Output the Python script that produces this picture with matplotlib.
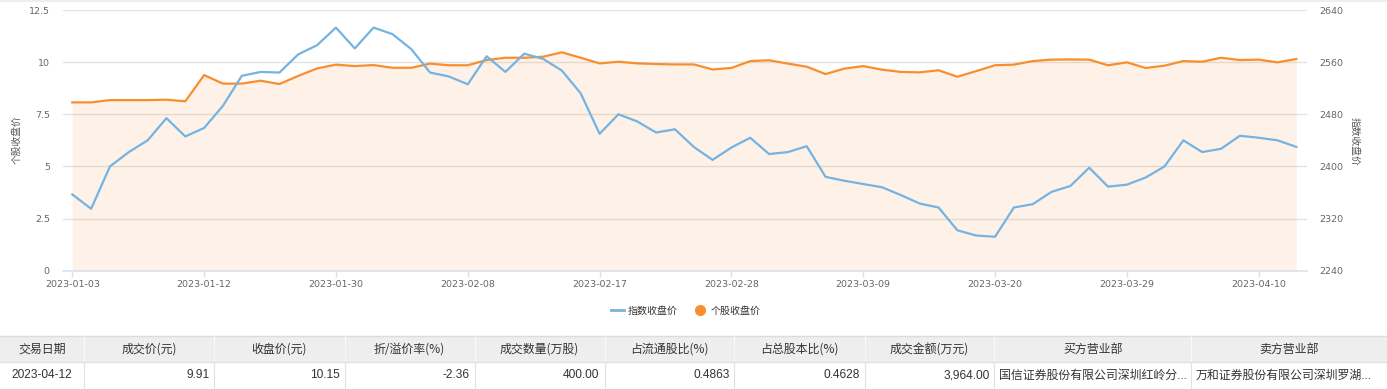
import matplotlib
matplotlib.use('Agg')
import matplotlib.pyplot as plt
from matplotlib.lines import Line2D
from matplotlib.patches import Rectangle

dates = ['2023-01-03', '2023-01-04', '2023-01-05', '2023-01-06', '2023-01-09', '2023-01-10',
         '2023-01-11', '2023-01-12', '2023-01-13', '2023-01-16', '2023-01-17', '2023-01-18',
         '2023-01-19', '2023-01-20', '2023-01-30', '2023-01-31', '2023-02-01', '2023-02-02',
         '2023-02-03', '2023-02-06', '2023-02-07', '2023-02-08', '2023-02-09', '2023-02-10',
         '2023-02-13', '2023-02-14', '2023-02-15', '2023-02-16', '2023-02-17', '2023-02-20',
         '2023-02-21', '2023-02-22', '2023-02-23', '2023-02-24', '2023-02-27', '2023-02-28',
         '2023-03-01', '2023-03-02', '2023-03-03', '2023-03-06', '2023-03-07', '2023-03-08',
         '2023-03-09', '2023-03-10', '2023-03-13', '2023-03-14', '2023-03-15', '2023-03-16',
         '2023-03-17', '2023-03-20', '2023-03-21', '2023-03-22', '2023-03-23', '2023-03-24',
         '2023-03-27', '2023-03-28', '2023-03-29', '2023-03-30', '2023-03-31', '2023-04-03',
         '2023-04-04', '2023-04-06', '2023-04-07', '2023-04-10', '2023-04-11', '2023-04-12']

# 个股收盘价 (left axis)
stock_close = [8.07, 8.07, 8.18, 8.18, 8.18, 8.20, 8.12, 9.38, 8.97, 8.97, 9.11,
               8.95, 9.34, 9.70, 9.88, 9.81, 9.86, 9.73, 9.73, 9.93, 9.85, 9.85,
               10.10, 10.21, 10.21, 10.26, 10.47, 10.21, 9.94, 10.02, 9.94, 9.91, 9.89,
               9.89, 9.65, 9.72, 10.05, 10.09, 9.93, 9.78, 9.43, 9.69, 9.81, 9.64,
               9.53, 9.51, 9.61, 9.30, 9.57, 9.85, 9.88, 10.05, 10.12, 10.13, 10.12,
               9.85, 9.99, 9.72, 9.83, 10.05, 10.02, 10.21, 10.10, 10.12, 9.99, 10.15]

# 指数收盘价 (right axis)
index_close = [2357, 2335, 2400, 2422, 2440, 2474, 2446, 2459, 2493, 2539, 2545,
               2544, 2572, 2586, 2613, 2581, 2613, 2603, 2580, 2544, 2538, 2526,
               2569, 2545, 2573, 2565, 2547, 2512, 2450, 2480, 2469, 2452, 2457,
               2430, 2410, 2429, 2444, 2419, 2422, 2431, 2384, 2378, 2373, 2368,
               2356, 2343, 2337, 2302, 2294, 2292, 2337, 2342, 2361, 2370, 2398,
               2369, 2372, 2383, 2400, 2440, 2422, 2427, 2447, 2444, 2440, 2430]

left_ticks = [0, 2.5, 5, 7.5, 10, 12.5]
left_labels = ['0', '2.5', '5', '7.5', '10', '12.5']
right_ticks = [2240, 2320, 2400, 2480, 2560, 2640]

table_header = ['交易日期', '成交价(元)', '收盘价(元)', '折/溢价率(%)', '成交数量(万股)',
                '占流通股比(%)', '占总股本比(%)', '成交金额(万元)', '买方营业部', '卖方营业部']
table_row = ['2023-04-12', '9.91', '10.15', '-2.36', '400.00', '0.4863', '0.4628',
             '3,964.00', '国信证券股份有限公司深圳红岭分...', '万和证券股份有限公司深圳罗湖...']

W, H = 1387, 389
BLUE = '#74b3e2'
ORANGE = '#f98e2e'
CJK = ['Noto Sans CJK SC', 'DejaVu Sans']
NUM = ['Liberation Sans', 'Noto Sans CJK SC']

fig = plt.figure(figsize=(W / 100, H / 100), dpi=100)

# overlay in pixel coords for table and borders
tab = fig.add_axes([0, 0, 1, 1])
tab.set_xlim(0, W)
tab.set_ylim(H, 0)
tab.axis('off')

tab.add_patch(Rectangle((0, 0), W, 1.6, fc='#eeeeee', ec='none'))

col_edges = [0, 83.5, 214.3, 344.6, 474.6, 604.5, 734.4, 864.7, 994.4, 1190.9, W]
head_top, head_bot, row_bot = 336, 362, 389
tab.add_patch(Rectangle((0, head_top), W, head_bot - head_top, fc='#eeeeee', ec='none'))
tab.plot([0, W], [head_top, head_top], color='#dcdcdc', lw=1)
tab.plot([0, W], [head_bot, head_bot], color='#e2e2e2', lw=1)
for e in col_edges[1:-1]:
    tab.plot([e, e], [head_top, head_bot], color='#f8f8f8', lw=0.8)
    tab.plot([e, e], [head_bot, row_bot], color='#e2e2e2', lw=0.8)

for i, txt in enumerate(table_header):
    cx = (col_edges[i] + col_edges[i + 1]) / 2
    tab.text(cx, 349.5, txt, ha='center', va='center', family=CJK, size=8.6, color='#333333')

for i, txt in enumerate(table_row):
    if i == 0:
        tx, ha = (col_edges[0] + col_edges[1]) / 2, 'center'
    elif i < 8:
        tx, ha = col_edges[i + 1] - 5, 'right'
    else:
        tx, ha = col_edges[i] + 5, 'left'
    tab.text(tx, 375.5, txt, ha=ha, va='center', family=NUM, size=8.6, color='#333333')

# main chart
ax = fig.add_axes([63 / W, 1 - 270.7 / H, (1306.7 - 63) / W, (270.7 - 10) / H])
x = list(range(len(dates)))
ax.fill_between(x, 0, stock_close, color=ORANGE, alpha=0.11, lw=0, zorder=1)
ax.plot(x, stock_close, color=ORANGE, lw=1.6, zorder=3)
ax.set_xlim(-0.494, 65.55)
ax.set_ylim(0, 12.5)
ax.set_yticks(left_ticks)
ax.set_yticklabels(left_labels)
ax.grid(axis='y', color='#e3e3e3', lw=1)
ax.set_axisbelow(True)
for s in ['left', 'right', 'top']:
    ax.spines[s].set_visible(False)
ax.spines['bottom'].set_color('#dbe1ec')
ax.spines['bottom'].set_linewidth(1.2)
ax.set_xticks(x[::7])
ax.set_xticklabels(dates[::7])
ax.tick_params(axis='x', length=4, width=1, color='#dbe1ec', pad=2.5, labelsize=6.8, labelcolor='#666666')
ax.tick_params(axis='y', length=0, pad=9.5, labelsize=6.8, labelcolor='#666666')

ax2 = ax.twinx()
ax2.plot(x, index_close, color=BLUE, lw=1.6, zorder=4)
ax2.set_ylim(2240, 2640)
ax2.set_yticks(right_ticks)
for s in ax2.spines.values():
    s.set_visible(False)
ax2.tick_params(axis='y', length=0, pad=9, labelsize=6.8, labelcolor='#666666')

fig.text(17 / W, 1 - 140 / H, '个股收盘价', rotation=90, ha='center', va='center',
         family=CJK, size=7, color='#555555')
fig.text(1355 / W, 1 - 141 / H, '指数收盘价', rotation=-90, ha='center', va='center',
         family=CJK, size=7, color='#555555')

handles = [Line2D([], [], color=BLUE, lw=2),
           Line2D([], [], color=ORANGE, marker='o', ls='none', markersize=7)]
fig.legend(handles, ['指数收盘价', '个股收盘价'], loc='center',
           bbox_to_anchor=(685.5 / W, 1 - 310.7 / H), ncol=2, frameon=False,
           prop={'family': CJK, 'size': 7.2}, handlelength=1.3, handletextpad=0.4,
           columnspacing=1.6, labelcolor='#333333')

fig.savefig('out.png', dpi=100)
